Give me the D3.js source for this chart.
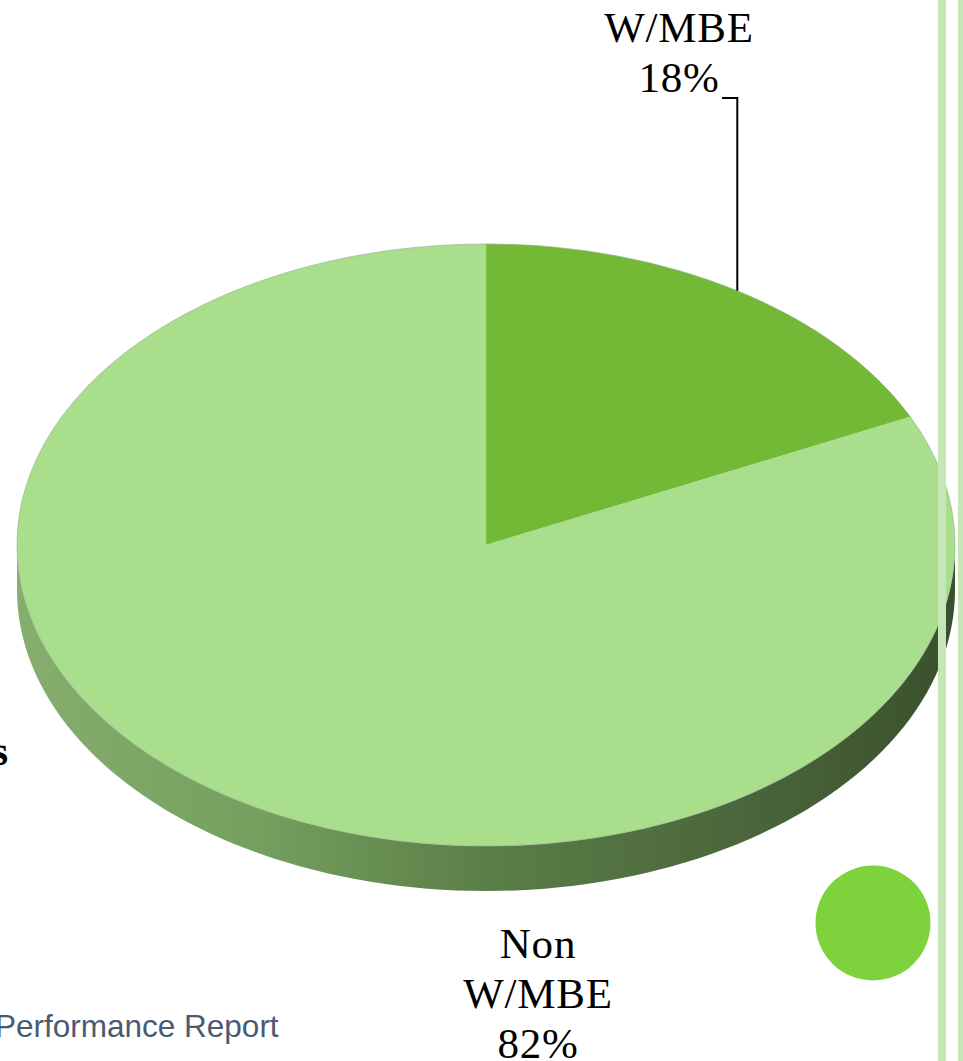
<!DOCTYPE html>
<html>
<head>
<meta charset="utf-8">
<script src="https://cdn.jsdelivr.net/npm/d3@7"></script>
<style>
  body { margin: 0; background: #fff; }
  svg { display: block; }
</style>
</head>
<body>
<script>
// data
var categories = ["W/MBE", "Non W/MBE"];
var shares = [18, 82];
var labelLines = [["W/MBE", "18%"], ["Non", "W/MBE", "82%"]];

var width = 963, height = 1061;
var cx = 486, cy = 545, rx = 469, ry = 301, depth = 45;

var topColors = ["#73b935", "#a9de8d"];

var svg = d3.select("body").append("svg")
    .attr("width", width)
    .attr("height", height);

var defs = svg.append("defs");
var grad = defs.append("linearGradient")
    .attr("id", "side")
    .attr("gradientUnits", "userSpaceOnUse")
    .attr("x1", cx - rx).attr("x2", cx + rx)
    .attr("y1", 0).attr("y2", 0);
[["0%", "#86ae6e"], ["25%", "#75a05f"], ["50%", "#5b7e48"], ["75%", "#4c683c"], ["100%", "#3a502d"]]
    .forEach(function(s) {
        grad.append("stop").attr("offset", s[0]).attr("stop-color", s[1]);
    });

var pie = d3.pie().sort(null).value(d => d.value);
var arcs = pie(categories.map((c, i) => ({ name: c, value: shares[i], lines: labelLines[i] })));

// point on the ellipse for a pie angle (0 = top, clockwise)
function pt(a, off) {
    return [cx + rx * Math.sin(a), cy - ry * Math.cos(a) + (off || 0)];
}

// side walls: only the front half (angles PI/2 .. 3PI/2) is visible
var sideG = svg.append("g");
arcs.forEach(function(d) {
    var a0 = Math.max(d.startAngle, Math.PI / 2),
        a1 = Math.min(d.endAngle, Math.PI * 1.5);
    if (a1 <= a0) return;
    var steps = d3.range(0, 101).map(k => a0 + (a1 - a0) * k / 100);
    var top = steps.map(a => pt(a, 0));
    var bottom = steps.slice().reverse().map(a => pt(a, depth));
    sideG.append("path")
        .attr("d", d3.line()(top.concat(bottom)) + "Z")
        .attr("fill", "url(#side)");
});

// top face: circular arcs squashed into the ellipse
var arcGen = d3.arc().innerRadius(0).outerRadius(100);
svg.append("g")
    .attr("transform", "translate(" + cx + "," + cy + ") scale(" + (rx / 100) + "," + (ry / 100) + ")")
  .selectAll("path")
    .data(arcs)
  .enter().append("path")
    .attr("d", arcGen)
    .attr("fill", (d, i) => topColors[i])
    .attr("stroke", (d, i) => topColors[i])
    .attr("stroke-width", 0.1);

// faint rim on the top face
svg.append("ellipse")
    .attr("cx", cx).attr("cy", cy).attr("rx", rx).attr("ry", ry)
    .attr("fill", "none")
    .attr("stroke", "#9aa895")
    .attr("stroke-opacity", 0.5)
    .attr("stroke-width", 1);

// labels
var font = "'Liberation Serif', 'DejaVu Serif', serif";
var labelPos = [{ x: 679, y: 42 }, { x: 538, y: 958 }];
var lineGap = 50;

arcs.forEach(function(d, i) {
    var t = svg.append("text")
        .attr("text-anchor", "middle")
        .attr("font-family", font)
        .attr("font-size", 43)
        .attr("letter-spacing", 0.8)
        .attr("fill", "#000");
    d.data.lines.forEach(function(s, k) {
        t.append("tspan")
            .attr("x", labelPos[i].x)
            .attr("y", labelPos[i].y + k * lineGap)
            .text(s);
    });
});

// leader for the small slice, ending on the rim at the slice middle
var mid = (arcs[0].startAngle + arcs[0].endAngle) / 2;
var end = pt(mid, 0);
svg.append("path")
    .attr("d", d3.line()([[722, 98], [end[0], 98], end]))
    .attr("fill", "none")
    .attr("stroke", "#000")
    .attr("stroke-width", 2);

// slide decoration
svg.append("rect").attr("x", 938).attr("y", 0).attr("width", 8).attr("height", height).attr("fill", "#c6e6b6");
svg.append("rect").attr("x", 958).attr("y", 0).attr("width", 8).attr("height", height).attr("fill", "#c6e6b6");
svg.append("circle").attr("cx", 873).attr("cy", 923).attr("r", 57.5).attr("fill", "#7ed23c");

svg.append("text")
    .attr("x", 8).attr("y", 765)
    .attr("text-anchor", "end")
    .attr("font-family", font)
    .attr("font-weight", "bold")
    .attr("font-size", 42)
    .text("s");

svg.append("text")
    .attr("x", -5).attr("y", 1037)
    .attr("font-family", "'Liberation Sans', Arial, sans-serif")
    .attr("font-size", 31.5)
    .attr("fill", "#4a5a72")
    .text("Performance Report");
</script>
</body>
</html>
